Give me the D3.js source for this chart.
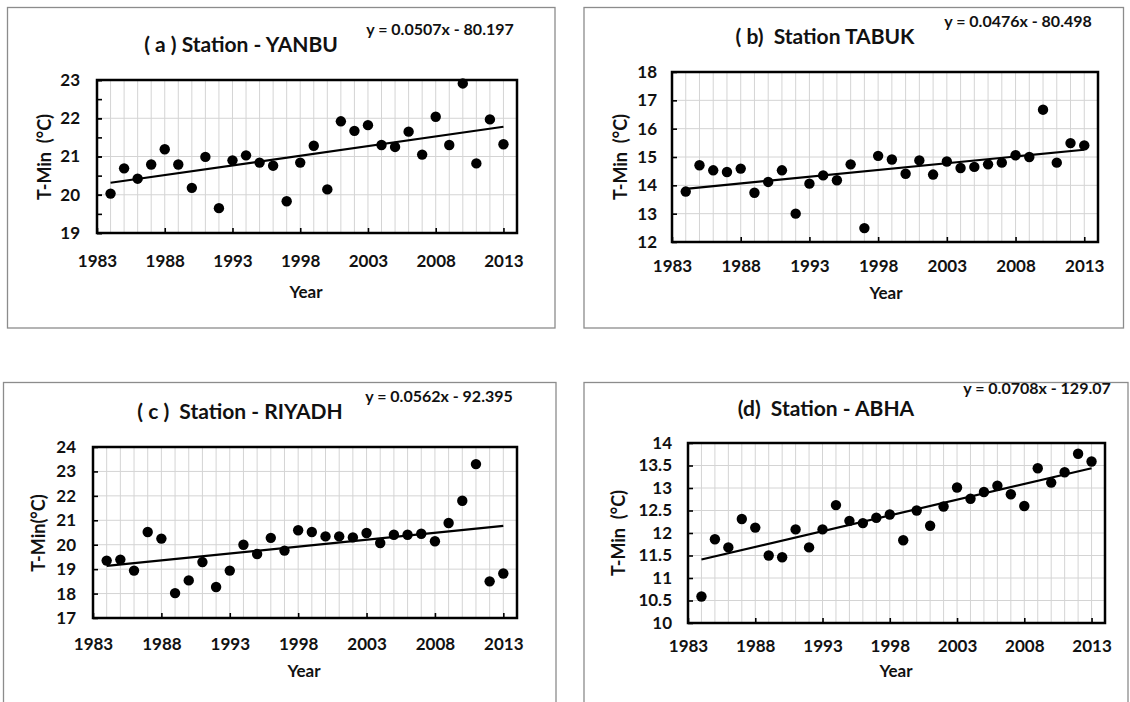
<!DOCTYPE html>
<html>
<head>
<meta charset="utf-8">
<script src="https://cdn.jsdelivr.net/npm/d3@7"></script>
<style>
    body { margin: 0; background: #fff; }
    svg text { font-family: Lato, "Open Sans", sans-serif; font-weight: bold; fill: #111; white-space: pre; }
</style>
</head>
<body>
<div id="draw"></div>
<script>
// observation years (one point per year)
var years = [1984, 1985, 1986, 1987, 1988, 1989, 1990, 1991, 1992, 1993,
    1994, 1995, 1996, 1997, 1998, 1999, 2000, 2001, 2002, 2003,
    2004, 2005, 2006, 2007, 2008, 2009, 2010, 2011, 2012, 2013];

// annual mean minimum temperature per station, deg C
var yanbuTmin = [20.03, 20.69, 20.42, 20.79, 21.19, 20.79, 20.18, 20.99, 19.65, 20.90,
    21.03, 20.84, 20.76, 19.83, 20.84, 21.28, 20.14, 21.92, 21.67, 21.82,
    21.30, 21.25, 21.65, 21.05, 22.04, 21.30, 22.91, 20.82, 21.97, 21.32];
var tabukTmin = [13.78, 14.71, 14.53, 14.47, 14.59, 13.74, 14.12, 14.53, 13.00, 14.06,
    14.35, 14.18, 14.74, 12.49, 15.04, 14.91, 14.41, 14.88, 14.38, 14.84,
    14.61, 14.65, 14.74, 14.80, 15.06, 15.00, 16.67, 14.80, 15.49, 15.41];
var riyadhTmin = [19.35, 19.39, 18.94, 20.52, 20.25, 18.02, 18.54, 19.29, 18.27, 18.94,
    20.00, 19.62, 20.28, 19.76, 20.59, 20.52, 20.34, 20.34, 20.30, 20.48,
    20.07, 20.41, 20.41, 20.45, 20.14, 20.89, 21.80, 23.30, 18.50, 18.82];
var abhaTmin = [10.59, 11.86, 11.68, 12.31, 12.12, 11.50, 11.46, 12.08, 11.68, 12.08,
    12.62, 12.27, 12.22, 12.34, 12.41, 11.84, 12.50, 12.16, 12.59, 13.01,
    12.76, 12.91, 13.05, 12.86, 12.60, 13.44, 13.12, 13.35, 13.76, 13.59];

// axis labels
var xTickYears = [1983, 1988, 1993, 1998, 2003, 2008, 2013];
var yTicksYanbu = [19, 20, 21, 22, 23];
var yTicksTabuk = [12, 13, 14, 15, 16, 17, 18];
var yTicksRiyadh = [17, 18, 19, 20, 21, 22, 23, 24];
var yTicksAbha = [10, 10.5, 11, 11.5, 12, 12.5, 13, 13.5, 14];

var titles = ["( a ) Station - YANBU", "( b)  Station TABUK", "( c )  Station - RIYADH", "(d)  Station - ABHA"];
var equations = ["y = 0.0507x - 80.197", "y = 0.0476x - 80.498", "y = 0.0562x - 92.395", "y = 0.0708x - 129.07"];
var yTitles = ["T-Min  (°C)", "T-Min  (°C)", "T-Min(°C)", "T-Min  (°C)"];

(function (global) {
    "use strict";

    var svg = d3.select('#draw').append('svg')
        .attr('width', 1130)
        .attr('height', 702);

    /**
     * One station panel: box, grid, points and trend line
     *
     * @constructor
     */
    var StationPanel = function (opts) {
        this.opts = opts;
        this.x = d3.scaleLinear().domain([1983, 2014]).range([opts.plot[0], opts.plot[2]]);
        this.y = d3.scaleLinear()
            .domain([opts.yTicks[0], opts.yTicks[opts.yTicks.length - 1]])
            .range([opts.plot[3], opts.plot[1]]);
        return this;
    };

    // least squares fit, same as the excel trendline
    StationPanel.prototype.fit = function () {
        var vals = this.opts.values,
            mx = d3.mean(years),
            my = d3.mean(vals),
            sxy = d3.sum(years, function (d, i) { return (d - mx) * (vals[i] - my); }),
            sxx = d3.sum(years, function (d) { return (d - mx) * (d - mx); }),
            b = sxy / sxx;
        return {b: b, a: my - b * mx};
    };

    StationPanel.prototype.draw = function () {
        var o = this.opts,
            x = this.x,
            y = this.y,
            p = o.plot,
            g = svg.append('g');

        // outer panel border
        g.append('rect')
            .attr('x', o.box[0]).attr('y', o.box[1])
            .attr('width', o.box[2] - o.box[0]).attr('height', o.box[3] - o.box[1])
            .attr('fill', 'none')
            .attr('stroke', '#8c8c8c')
            .attr('stroke-width', 1.3);

        // gridlines: every year vertically, major ticks horizontally
        g.append('g').selectAll('line').data(x.ticks(31))
            .join('line')
            .attr('x1', function (d) { return x(d); }).attr('x2', function (d) { return x(d); })
            .attr('y1', p[1]).attr('y2', p[3])
            .attr('stroke', '#d4d4d4').attr('stroke-width', 1);
        g.append('g').selectAll('line').data(o.yTicks)
            .join('line')
            .attr('x1', p[0]).attr('x2', p[2])
            .attr('y1', function (d) { return y(d); }).attr('y2', function (d) { return y(d); })
            .attr('stroke', '#d4d4d4').attr('stroke-width', 1);

        // axes with inside ticks
        var xAxis = g.append('g')
            .attr('transform', 'translate(0,' + p[3] + ')')
            .call(d3.axisBottom(x).tickValues(xTickYears).tickSizeInner(-5).tickSizeOuter(0).tickFormat(d3.format('d')));
        xAxis.selectAll('text')
            .attr('dy', null)
            .attr('y', o.xLabBase - p[3])
            .style('font-size', '17px');

        var yAxis = g.append('g')
            .attr('transform', 'translate(' + p[0] + ',0)')
            .call(d3.axisLeft(y).tickValues(o.yTicks).tickSizeInner(-5).tickSizeOuter(0)
                .tickPadding(p[0] - o.yLabRight).tickFormat(d3.format('')));
        yAxis.selectAll('text').style('font-size', '17px');

        if (o.minor) {
            g.append('g')
                .attr('transform', 'translate(' + p[0] + ',0)')
                .call(d3.axisLeft(y).tickValues(y.ticks(8)).tickSizeInner(-5).tickSizeOuter(0).tickFormat(''));
        }
        g.selectAll('.domain').remove();
        g.selectAll('.tick line').attr('stroke', '#000').attr('stroke-width', 1.6);

        // plot frame
        g.append('rect')
            .attr('x', p[0]).attr('y', p[1])
            .attr('width', p[2] - p[0]).attr('height', p[3] - p[1])
            .attr('fill', 'none')
            .attr('stroke', '#000')
            .attr('stroke-width', 2.5);

        // trend line
        var f = this.fit(),
            ends = [years[0], years[years.length - 1]];
        g.append('line')
            .attr('x1', x(ends[0])).attr('y1', y(f.a + f.b * ends[0]))
            .attr('x2', x(ends[1])).attr('y2', y(f.a + f.b * ends[1]))
            .attr('stroke', '#000')
            .attr('stroke-width', 2.2);

        // points
        g.append('g').selectAll('circle').data(o.values)
            .join('circle')
            .attr('cx', function (d, i) { return x(years[i]); })
            .attr('cy', function (d) { return y(d); })
            .attr('r', 5.2)
            .attr('fill', '#000');

        // texts
        g.append('text')
            .attr('x', o.title[0]).attr('y', o.title[1])
            .attr('text-anchor', 'middle')
            .style('font-size', '21px')
            .text(o.titleText);
        g.append('text')
            .attr('x', o.eq[0]).attr('y', o.eq[1])
            .attr('text-anchor', 'middle')
            .style('font-size', '16px')
            .text(o.eqText);
        g.append('text')
            .attr('transform', 'translate(' + o.yTitle[0] + ',' + o.yTitle[1] + ') rotate(-90)')
            .attr('text-anchor', 'middle')
            .attr('dy', '0.35em')
            .style('font-size', '18px')
            .text(o.yTitleText);
        g.append('text')
            .attr('x', o.year[0]).attr('y', o.year[1])
            .attr('text-anchor', 'middle')
            .style('font-size', '17px')
            .text('Year');
    };

    var panels = [
        {values: yanbuTmin, yTicks: yTicksYanbu, minor: true,
            box: [7.5, 7.5, 555, 328], plot: [97, 80, 517, 233],
            title: [241, 52], eq: [440, 35], yTitle: [45, 157], year: [306, 298],
            xLabBase: 267, yLabRight: 80},
        {values: tabukTmin, yTicks: yTicksTabuk, minor: false,
            box: [584, 7.5, 1123.5, 328], plot: [672, 72, 1098, 242],
            title: [825, 44], eq: [1018, 27], yTitle: [621, 157], year: [886, 299],
            xLabBase: 272, yLabRight: 657},
        {values: riyadhTmin, yTicks: yTicksRiyadh, minor: false,
            box: [3.5, 382.5, 556, 712], plot: [93, 447, 517, 618],
            title: [240, 419], eq: [439, 402], yTitle: [39, 533], year: [304, 677],
            xLabBase: 650, yLabRight: 76},
        {values: abhaTmin, yTicks: yTicksAbha, minor: false,
            box: [584, 382.5, 1128, 712], plot: [688, 443, 1105, 623],
            title: [826, 416], eq: [1037, 394], yTitle: [619, 533], year: [896, 677],
            xLabBase: 652, yLabRight: 672}
    ];

    panels.forEach(function (opts, i) {
        opts.titleText = titles[i];
        opts.eqText = equations[i];
        opts.yTitleText = yTitles[i];
        new StationPanel(opts).draw();
    });

    global.StationPanel = StationPanel;

}(this));
</script>
</body>
</html>
